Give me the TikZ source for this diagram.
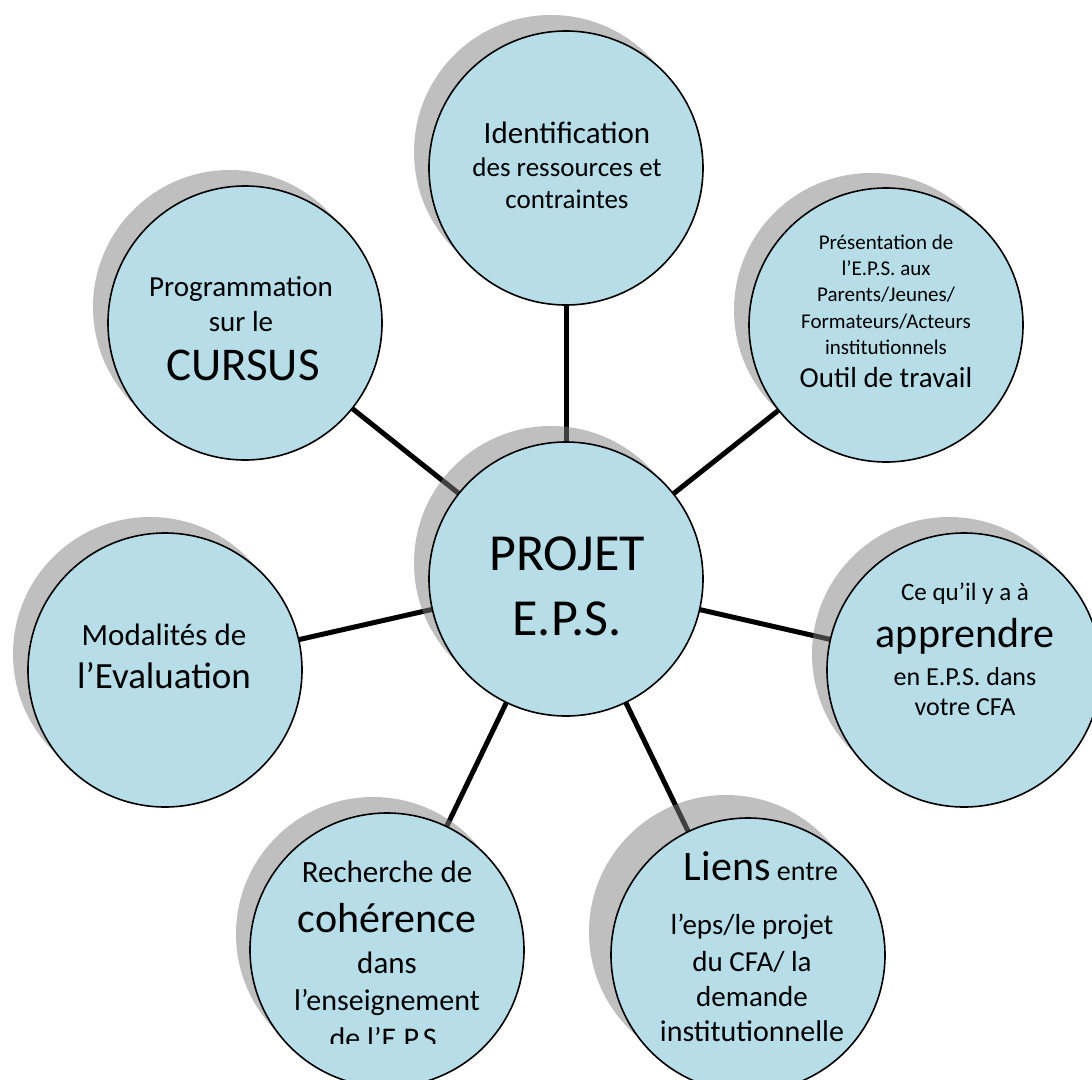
\documentclass[tikz,border=0pt]{standalone}
\usepackage{fontspec}
\setmainfont{Carlito}
\definecolor{bubblefill}{HTML}{B7DEE8}
\newcommand{\fz}[1]{\fontsize{#1}{#1}\selectfont}
\pgfdeclarelayer{paper}
\pgfdeclarelayer{links}
\pgfsetlayers{paper,links,main}
\tikzset{
  shadowc/.style={circle, minimum size=274pt, inner sep=0pt, fill=black!50, fill opacity=0.5, draw=none},
  bubble/.style={circle, minimum size=274pt, inner sep=0pt, fill=bubblefill, draw=black, line width=1.6pt},
  link/.style={line width=5pt, draw=black},
  txt/.style={anchor=base, inner sep=0pt, outer sep=0pt, text=black}
}
\begin{document}
\begin{tikzpicture}[x=1pt,y=-1pt]
\useasboundingbox (0,0) rectangle (1092,1079);
\clip (0,0) rectangle (1092,1079);
\begin{pgfonlayer}{paper}
\fill[white] (0,0) rectangle (1092,1079);
\end{pgfonlayer}

% shadows
\node[shadowc] (s0) at (551,563) {};
\node[shadowc] (s1) at (551,152) {};
\node[shadowc] (s2) at (230,307) {};
\node[shadowc] (s3) at (871,310) {};
\node[shadowc] (s4) at (949,654) {};
\node[shadowc] (s5) at (726,932) {};
\node[shadowc] (s6) at (373,934) {};
\node[shadowc] (s7) at (150,654) {};

% bubbles
\node[bubble] (c)  at (566,579) {};
\node[bubble] (n1) at (566,168) {};
\node[bubble] (n2) at (245,323) {};
\node[bubble] (n3) at (886,325) {};
\node[bubble] (n4) at (964,670) {};
\node[bubble] (n5) at (748,955) {};
\node[bubble] (n6) at (387,950) {};
\node[bubble] (n7) at (165,670) {};

% connectors (behind shadows and bubbles)
\begin{pgfonlayer}{links}
\foreach \n in {n1,n2,n3,n4,n5,n6,n7}
  \draw[link] (c.center) -- (\n.center);
\end{pgfonlayer}

% texts: top
\node[txt, font=\fz{31}] (t1a) at (567,143) {Identification};
\node[txt, font=\fz{27}] (t1b) at (567,176) {des ressources et};
\node[txt, font=\fz{27}] (t1c) at (567,208) {contraintes};

% top-left
\node[txt, font=\fz{29}] (t2a) at (241,296) {Programmation};
\node[txt, font=\fz{29}] (t2b) at (241,331) {sur le};
\node[txt, font=\fz{47}] (t2c) at (243,380) {CURSUS};

% top-right
\node[txt, font=\fz{21}] (t3a) at (886,249) {Présentation de};
\node[txt, font=\fz{21}] (t3b) at (886,275) {l’E.P.S. aux};
\node[txt, font=\fz{21}] (t3c) at (886,301) {Parents/Jeunes/};
\node[txt, font=\fz{21}] (t3d) at (886,328) {Formateurs/Acteurs};
\node[txt, font=\fz{21}] (t3e) at (886,354) {institutionnels};
\node[txt, font=\fz{29}] (t3f) at (886,387) {Outil de travail};

% centre
\node[txt, font=\fz{52}] (tca) at (567,570) {PROJET};
\node[txt, font=\fz{52}] (tcb) at (567,635) {E.P.S.};

% left
\node[txt, font=\fz{31}] (t7a) at (164,645) {Modalités de};
\node[txt, font=\fz{37}] (t7b) at (164,688) {l’Evaluation};

% right
\node[txt, font=\fz{25}] (t4a) at (965,600) {Ce qu’il y a à};
\node[txt, font=\fz{42}] (t4b) at (965,647) {apprendre};
\node[txt, font=\fz{26}] (t4c) at (965,685) {en E.P.S. dans};
\node[txt, font=\fz{26}] (t4d) at (965,715) {votre CFA};

% bottom-left
\node[txt, font=\fz{31}] (t6a) at (387,882) {Recherche de};
\node[txt, font=\fz{42}] (t6b) at (387,932) {cohérence};
\node[txt, font=\fz{31}] (t6c) at (387,973) {dans};
\node[txt, font=\fz{30}] (t6d) at (387,1010) {l’enseignement};
\begin{scope}
  \clip (250,1000) rectangle (530,1043);
  \node[txt, font=\fz{30}] (t6e) at (387,1048) {de l’E.P.S.};
\end{scope}

% bottom-right
\node[txt] (t5a) at (761,880) {{\fz{42}Liens}{\fz{28} entre}};
\node[txt, font=\fz{29}] (t5b) at (752,934) {l’eps/le projet};
\node[txt, font=\fz{29}] (t5c) at (752,971) {du CFA/ la};
\node[txt, font=\fz{29}] (t5d) at (752,1006) {demande};
\node[txt, font=\fz{30}] (t5e) at (752,1041) {institutionnelle};
\end{tikzpicture}
\end{document}
